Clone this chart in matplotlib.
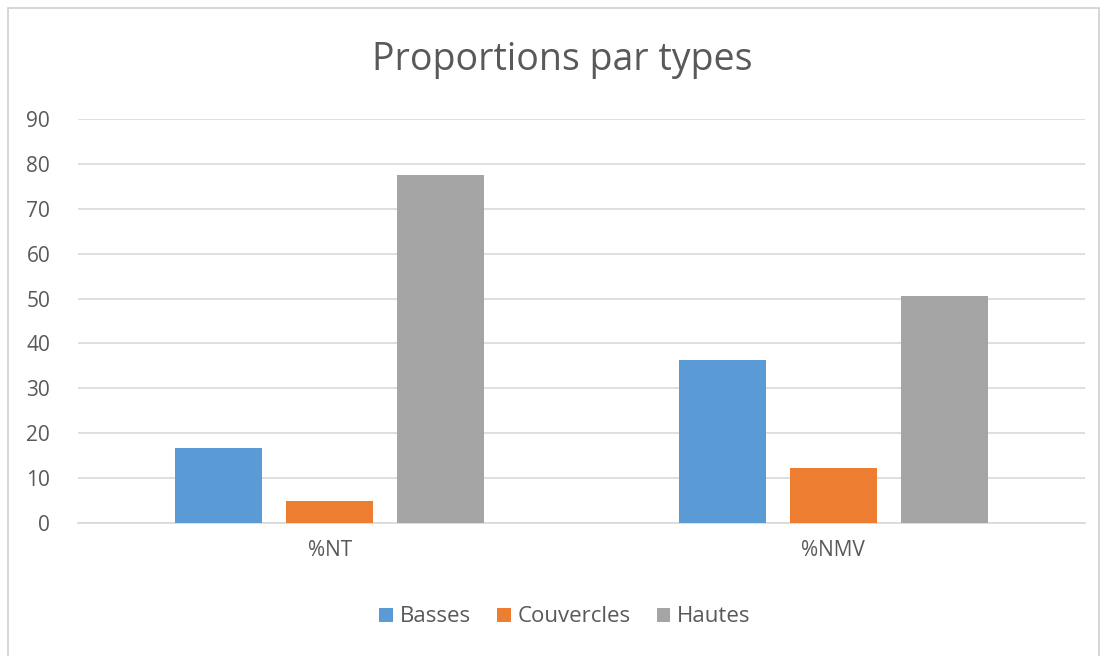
import matplotlib.pyplot as plt
import numpy as np
from matplotlib.patches import Rectangle

categories = ["%NT", "%NMV"]
series_names = ["Basses", "Couvercles", "Hautes"]
basses = [16.6, 36.3]
couvercles = [5.0, 12.2]
hautes = [77.5, 50.6]
colors = ["#5b9bd5", "#ed7d31", "#a5a5a5"]

plt.rcParams['font.family'] = ['Open Sans', 'DejaVu Sans']

W, H = 1103, 656
fig = plt.figure(figsize=(W / 100, H / 100), dpi=100)
fig.patch.set_facecolor("white")

# chart area border (bottom edge falls outside the picture)
fig.patches.append(Rectangle((8 / W, -0.05), (1099 - 8) / W, 1.05 - 8 / H,
                             transform=fig.transFigure, fill=False,
                             edgecolor="#d0d0d0", linewidth=1.2))

ax = fig.add_axes([78 / W, 1 - 523 / H, (1085 - 78) / W, (523 - 119) / H])

x = np.arange(len(categories))
w = 0.173
step = 0.2207
for i, (name, vals) in enumerate(zip(series_names, [basses, couvercles, hautes])):
    ax.bar(x + (i - 1) * step, vals, width=w, color=colors[i], label=name, zorder=3)

ax.set_xlim(-0.5, 1.5)
ax.set_ylim(0, 90)
ax.set_yticks(range(0, 91, 10))
ax.set_xticks(x)
ax.set_xticklabels(categories)
ax.grid(axis="y", color="#d9d9d9", linewidth=1.2, zorder=0)
for s in ["top", "right", "left"]:
    ax.spines[s].set_visible(False)
ax.spines["bottom"].set_color("#d9d9d9")
ax.spines["bottom"].set_linewidth(1.2)
ax.tick_params(axis="both", length=0, colors="#595959", labelsize=15)
ax.tick_params(axis="y", pad=20)
ax.tick_params(axis="x", pad=12)

fig.text(562 / W, 1 - 60 / H, "Proportions par types", ha="center", va="center",
         fontsize=27, color="#595959")

ax.legend(loc="center", bbox_to_anchor=(565 / W, 1 - 617 / H),
          bbox_transform=fig.transFigure, ncol=3, frameon=False,
          fontsize=16, labelcolor="#595959", handlelength=0.6, handleheight=0.6,
          handletextpad=0.3, columnspacing=1.2)

fig.savefig("out.png", dpi=100)
